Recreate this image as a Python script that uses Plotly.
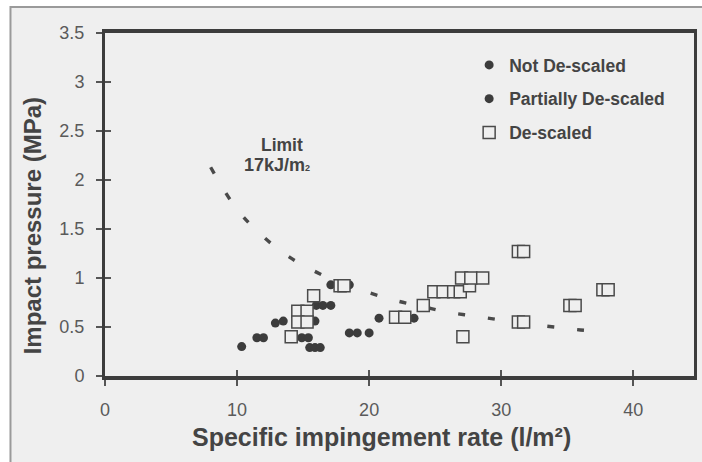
import plotly.graph_objects as go

# ---- data ----
not_x = [10.35, 11.5, 12.0, 12.9, 13.5, 15.5, 15.9, 16.3, 18.5, 19.1, 20.0, 16.0, 16.5, 17.1]
not_y = [0.30, 0.39, 0.39, 0.54, 0.56, 0.29, 0.29, 0.29, 0.44, 0.44, 0.44, 0.72, 0.72, 0.72]

part_x = [14.9, 15.4, 15.9, 17.1, 18.5, 20.75, 23.4]
part_y = [0.39, 0.39, 0.56, 0.93, 0.93, 0.59, 0.59]

desc_x = [14.1, 14.6, 15.3, 14.6, 15.3, 15.8, 17.8, 18.1, 22.0, 22.7, 24.1,
          24.9, 25.6, 26.4, 26.9, 27.6, 27.0, 27.7, 28.6, 27.1,
          31.3, 31.7, 31.3, 31.7, 35.2, 35.6, 37.7, 38.1]
desc_y = [0.40, 0.66, 0.66, 0.55, 0.55, 0.82, 0.92, 0.92, 0.60, 0.60, 0.72,
          0.86, 0.86, 0.86, 0.86, 0.92, 1.00, 1.00, 1.00, 0.40,
          1.27, 1.27, 0.55, 0.55, 0.72, 0.72, 0.88, 0.88]

limit_x = [8, 10, 12, 14, 16, 18, 20, 22, 24, 26, 28, 30, 32, 34, 36, 38]
limit_y = [2.13, 1.70, 1.42, 1.21, 1.06, 0.94, 0.85, 0.77, 0.71, 0.65, 0.61, 0.57, 0.53, 0.50, 0.47, 0.45]

x_ticks = [0, 10, 20, 30, 40]
y_ticks = [0, 0.5, 1, 1.5, 2, 2.5, 3, 3.5]
y_tick_labels = ["0", "0.5", "1", "1.5", "2", "2.5", "3", "3.5"]

series_names = ["Not De-scaled", "Partially De-scaled", "De-scaled"]
x_title = "Specific impingement rate (l/m²)"
y_title = "Impact pressure (MPa)"

FONT = "Liberation Sans, Arial, sans-serif"
BG = "#efefef"
DARK = "#3c3c3c"
W, H = 702, 462
ML, MR, MT, MB = 105, 5, 33, 86
PW, PH = W - ML - MR, H - MT - MB

fig = go.Figure()

fig.add_trace(go.Scatter(
    x=limit_x, y=limit_y, mode="lines", line=dict(color="#4a4a4a", width=3.4, dash="7px,23px", shape="spline"),
    showlegend=False, hoverinfo="skip"))

fig.add_trace(go.Scatter(
    x=not_x, y=not_y, mode="markers", name="<b>" + series_names[0] + "</b>", legendgroup="a",
    marker=dict(symbol="circle", size=9, color=DARK)))
fig.add_trace(go.Scatter(
    x=part_x, y=part_y, mode="markers", name="<b>" + series_names[1] + "</b>", legendgroup="b",
    marker=dict(symbol="circle", size=9, color=DARK)))
fig.add_trace(go.Scatter(
    x=desc_x, y=desc_y, mode="markers", name="<b>" + series_names[2] + "</b>", legendgroup="c",
    marker=dict(symbol="square", size=12, color=BG, line=dict(color="#4a4a4a", width=1.5))))

# helper empty trace for inner (crossing) ticks
fig.add_trace(go.Scatter(x=[], y=[], xaxis="x2", yaxis="y2", showlegend=False, hoverinfo="skip"))

xr = [0, 44.6]
yr = [0, 3.5]

fig.update_layout(
    width=W, height=H,
    margin=dict(l=ML, r=MR, t=MT, b=MB),
    paper_bgcolor="white", plot_bgcolor=BG,
    font=dict(family=FONT, color="#555555"),
    xaxis=dict(range=xr, tickvals=x_ticks, ticks="outside", ticklen=6, tickwidth=2, tickcolor="#555",
               showgrid=False, zeroline=False, showline=True, linewidth=4, linecolor=DARK, mirror=True,
               tickfont=dict(size=18, color="#5a5a5a"), ticklabelstandoff=8),
    yaxis=dict(range=yr, tickvals=y_ticks, ticktext=y_tick_labels, ticks="outside", ticklen=6, tickwidth=2,
               tickcolor="#555", showgrid=False, zeroline=False, showline=True, linewidth=3, linecolor=DARK,
               mirror=True, tickfont=dict(size=18, color="#5a5a5a"), ticklabelstandoff=8),
    xaxis2=dict(range=xr, overlaying="x", anchor="y2", tickvals=x_ticks, ticks="inside", ticklen=6, tickwidth=2,
                tickcolor="#555", showticklabels=False, showgrid=False, zeroline=False, showline=False),
    yaxis2=dict(range=yr, overlaying="y", anchor="x2", tickvals=y_ticks, ticks="inside", ticklen=6, tickwidth=2,
                tickcolor="#555", showticklabels=False, showgrid=False, zeroline=False, showline=False),
    legend=dict(x=(471 - ML) / PW, y=(376 - 47) / PH, xanchor="left", yanchor="top",
                bgcolor="rgba(0,0,0,0)", font=dict(size=17.5, color="#444", family=FONT),
                tracegroupgap=8, itemwidth=30),
    shapes=[dict(type="rect", xref="paper", yref="paper",
                 x0=(10 - ML) / PW, x1=(712 - ML) / PW, y0=(376 - 470) / PH, y1=(376 - 7) / PH,
                 fillcolor=BG, line=dict(color="#9a9a9a", width=2), layer="below")],
    annotations=[
        dict(x=13.4, y=2.36, xref="x", yref="y", text="<b>Limit</b>", showarrow=False,
             font=dict(size=17.5, color="#444", family=FONT)),
        dict(x=13.0, y=2.15, xref="x", yref="y",
             text="<b>17kJ/m<span style='font-size:9px'>2</span></b>", showarrow=False,
             font=dict(size=18, color="#444", family=FONT)),
        dict(x=(383 - ML) / PW, y=(376 - 437) / PH, xref="paper", yref="paper",
             text="<b>" + x_title + "</b>", showarrow=False, xanchor="center", yanchor="middle",
             font=dict(size=25, color="#444", family=FONT)),
        dict(x=(32 - ML) / PW, y=(376 - 226) / PH, xref="paper", yref="paper",
             text="<b>" + y_title + "</b>", showarrow=False, textangle=-90, xanchor="center", yanchor="middle",
             font=dict(size=24, color="#444", family=FONT)),
    ],
)

fig.write_html("out.html")
